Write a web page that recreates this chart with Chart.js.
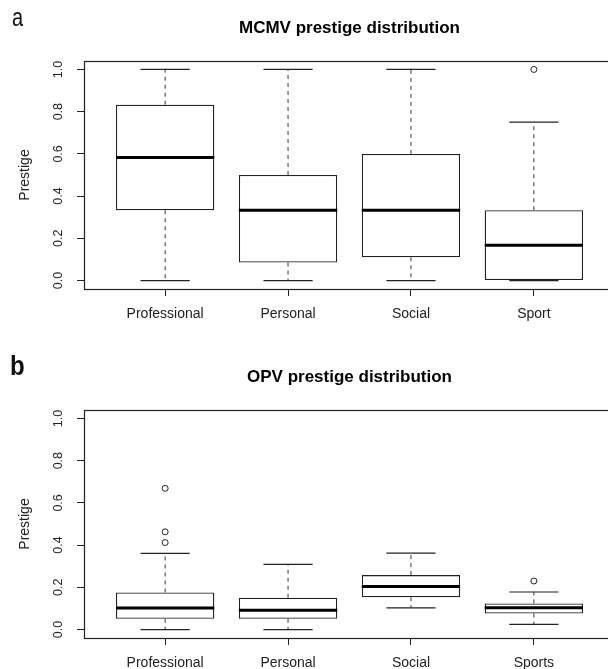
<!DOCTYPE html>
<html>
<head>
<meta charset="utf-8">
<script src="https://cdn.jsdelivr.net/npm/chart.js@4.4.0/dist/chart.umd.min.js"></script>
<style>
  html, body { margin: 0; padding: 0; background: #fff; overflow: hidden; }
  #wrap { position: relative; width: 608px; height: 669px; overflow: hidden; }
  .panel { position: absolute; left: 0; width: 620px; }
  .tag { position: absolute; font-family: "Liberation Sans", Arial, sans-serif; color: #111; transform-origin: left top; }
  #tagA { left: 12px; top: 4.5px; font-size: 25px; line-height: 25px; transform: scaleX(0.8); }
  #tagB { left: 10px; top: 353px; font-size: 27px; line-height: 27px; font-weight: bold; transform: scaleX(0.89); }
</style>
</head>
<body>
<div id="wrap">
  <div class="panel" style="top:0;height:349px"><canvas id="chartA" width="620" height="349" style="width:620px;height:349px"></canvas></div>
  <div class="panel" style="top:349px;height:320px"><canvas id="chartB" width="620" height="320" style="width:620px;height:320px"></canvas></div>
  <div class="tag" id="tagA">a</div>
  <div class="tag" id="tagB">b</div>
</div>
<script>
// categories
const categoriesA = ['Professional', 'Personal', 'Social', 'Sport'];
const categoriesB = ['Professional', 'Personal', 'Social', 'Sports'];
const yTicks = [0, 0.2, 0.4, 0.6, 0.8, 1.0];

// MCMV prestige (panel a)
const mcmvLow  = [0, 0, 0, 0];
const mcmvQ1   = [0.333, 0.085, 0.11, 0];
const mcmvMed  = [0.583, 0.333, 0.333, 0.167];
const mcmvQ3   = [0.833, 0.5, 0.6, 0.333];
const mcmvHigh = [1, 1, 1, 0.75];
const mcmvOut  = [[], [], [], [1.0]];

// OPV prestige (panel b)
const opvLow  = [0, 0, 0.103, 0.025];
const opvQ1   = [0.051, 0.051, 0.153, 0.076];
const opvMed  = [0.102, 0.091, 0.204, 0.103];
const opvQ3   = [0.176, 0.151, 0.258, 0.124];
const opvHigh = [0.361, 0.309, 0.362, 0.178];
const opvOut  = [[0.412, 0.463, 0.669], [], [], [0.230]];

Chart.defaults.font.family = '"Liberation Sans", Arial, sans-serif';
Chart.defaults.color = '#222';

const BOX_HALF = 0.4;
const CAP_HALF = 0.2;

// plot frame like R's box()
const framePlugin = {
  id: 'frame',
  afterDatasetsDraw(chart) {
    const a = chart.chartArea;
    const ctx = chart.ctx;
    ctx.save();
    ctx.strokeStyle = '#222';
    ctx.lineWidth = 1.2;
    ctx.strokeRect(Math.round(a.left) + 0.5, Math.round(a.top) + 0.5,
      Math.round(a.right - a.left), Math.round(a.bottom - a.top));
    ctx.restore();
  }
};

function makeBoxplot(canvasId, title, cats, low, q1, med, q3, high, outs, xAxisHeight) {
  const boxes = cats.map((c, i) => ({ x: i + 1, y: [q1[i], q3[i]] }));
  const medians = cats.flatMap((c, i) => [
    { x: i + 1 - BOX_HALF, y: med[i] }, { x: i + 1 + BOX_HALF, y: med[i] }, { x: i + 1, y: null }
  ]);
  const whiskers = cats.flatMap((c, i) => [
    { x: i + 1, y: q3[i] }, { x: i + 1, y: high[i] }, { x: i + 1, y: null },
    { x: i + 1, y: q1[i] }, { x: i + 1, y: low[i] }, { x: i + 1, y: null }
  ]);
  const caps = cats.flatMap((c, i) => [
    { x: i + 1 - CAP_HALF, y: high[i] }, { x: i + 1 + CAP_HALF, y: high[i] }, { x: i + 1, y: null },
    { x: i + 1 - CAP_HALF, y: low[i] }, { x: i + 1 + CAP_HALF, y: low[i] }, { x: i + 1, y: null }
  ]);
  const outliers = cats.flatMap((c, i) => outs[i].map(v => ({ x: i + 1, y: v })));

  return new Chart(document.getElementById(canvasId), {
    type: 'bar',
    data: {
      datasets: [
        {
          type: 'bar', data: boxes, order: 3,
          backgroundColor: '#fff', borderColor: '#222', borderWidth: 1.3,
          borderSkipped: false, barPercentage: 0.8, categoryPercentage: 1
        },
        {
          type: 'scatter', data: whiskers, order: 2, showLine: true, spanGaps: false,
          borderColor: '#333', borderWidth: 1, borderDash: [4, 4], pointRadius: 0
        },
        {
          type: 'scatter', data: caps, order: 2, showLine: true, spanGaps: false,
          borderColor: '#222', borderWidth: 1.2, pointRadius: 0
        },
        {
          type: 'scatter', data: medians, order: 1, showLine: true, spanGaps: false,
          borderColor: '#000', borderWidth: 3, pointRadius: 0
        },
        {
          type: 'scatter', data: outliers, order: 0, showLine: false,
          pointStyle: 'circle', pointRadius: 3, borderWidth: 1,
          borderColor: '#222', backgroundColor: '#fff'
        }
      ]
    },
    options: {
      responsive: false,
      animation: false,
      events: [],
      layout: { padding: { left: 0, right: 2, top: 0, bottom: 0 } },
      scales: {
        x: {
          type: 'linear', min: 0.34, max: 4.66, offset: false,
          afterBuildTicks: s => { s.ticks = cats.map((c, i) => ({ value: i + 1 })); },
          afterFit: s => { s.height = xAxisHeight; },
          ticks: {
            autoSkip: false, maxRotation: 0, padding: 10,
            font: { size: 14 }, color: '#222',
            callback: (v, i) => cats[i]
          },
          grid: { offset: false, drawOnChartArea: false, drawTicks: true, tickLength: 7, color: '#222' },
          border: { display: false }
        },
        y: {
          type: 'linear', min: -0.04, max: 1.04,
          afterBuildTicks: s => { s.ticks = yTicks.map(v => ({ value: v })); },
          afterFit: s => { s.width = 84; },
          ticks: {
            minRotation: 90, maxRotation: 90, crossAlign: 'center', padding: 9.3,
            font: { size: 12.5 }, color: '#222',
            callback: v => v.toFixed(1)
          },
          grid: { drawOnChartArea: false, drawTicks: true, tickLength: 7, color: '#222' },
          border: { display: false },
          title: { display: true, text: 'Prestige', font: { size: 14 }, color: '#222', padding: { top: 16.8, bottom: 0 } }
        }
      },
      plugins: {
        legend: { display: false },
        tooltip: { enabled: false },
        title: {
          display: true, text: title, fullSize: false, color: '#000',
          font: { size: 17, weight: 'bold' },
          padding: { top: 18, bottom: 22.6 }
        }
      }
    },
    plugins: [framePlugin]
  });
}

makeBoxplot('chartA', 'MCMV prestige distribution', categoriesA,
  mcmvLow, mcmvQ1, mcmvMed, mcmvQ3, mcmvHigh, mcmvOut, 60);
makeBoxplot('chartB', 'OPV prestige distribution', categoriesB,
  opvLow, opvQ1, opvMed, opvQ3, opvHigh, opvOut, 31);
</script>
</body>
</html>
